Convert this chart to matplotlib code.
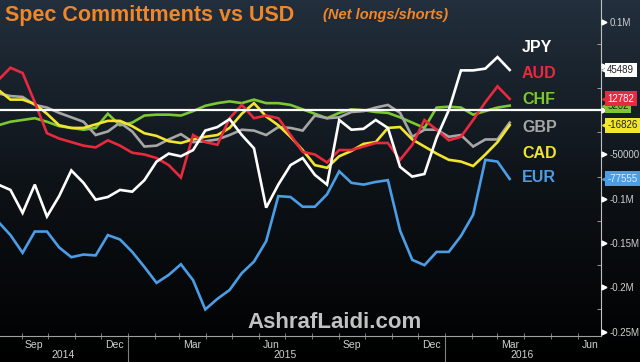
import numpy as np
import pandas as pd
import matplotlib
matplotlib.use("Agg")
import matplotlib.pyplot as plt
import matplotlib.dates as mdates
from matplotlib.transforms import blended_transform_factory

# CFTC net speculative positions vs USD, fortnightly readings
dates = pd.date_range("2014-08-05", periods=43, freq="14D")

jpy = [-84, -90, -116, -84, -120, -97, -68, -82, -101, -98, -90, -92, -79, -58,
       -49, -52, -45, -23, -19, -10, -28, -43, -110, -84, -62, -54, -73, -84,
       -11, -22, -21, -11, -20, -64, -75, -72, -31, 0, 45, 45, 47, 60, 45.489]
aud = [34, 48, 42, 9, -26, -32, -36, -40, -42, -34, -40, -48, -50, -54,
       -62, -76, -28, -36, -39, -9, 6, -9, -6, -9, -28, -47, -50, -59,
       -45, -45, -41, -37, -37, -56, -39, -11, -22, -34, -30, -11, 9, 27, 12.782]
chf = [-17, -13, -11, -9, -13, -18, -20, -22, -20, -4, -17, -14, -6, -5,
       -5, -6, -1, 5, 8, 10, 8, 12, 8, 8, 6, 1, -4, -9,
       -3, 1, 0, -2, -3, -8, -14, -20, 3, 4, 3, -5, -1, 3, 5.202]
gbp = [19, 16, 15, 6, 3, -3, -8, -13, -28, -24, -14, -24, -41, -40,
       -33, -27, -36, -35, -33, -28, -22, -23, -28, -19, -20, -23, -6, -9,
       -8, -2, -1, 3, 6, -3, -30, -22, -22, -30, -28, -41, -33, -33, -14]
cad = [23, 12, 12, 7, -4, -17, -20, -20, -16, -12, -12, -18, -26, -29,
       -35, -37, -33, -30, -28, -20, -4, 8, -7, -17, -30, -45, -62, -65,
       -52, -46, -38, -36, -20, -19, -33, -41, -49, -56, -58, -63, -50, -36, -16.826]
eur = [-126, -141, -161, -137, -137, -155, -166, -163, -164, -141, -146, -160, -177, -195,
       -186, -174, -192, -225, -213, -203, -184, -171, -148, -97, -98, -109, -109, -95,
       -69, -82, -84, -81, -79, -136, -169, -175, -160, -160, -142, -118, -56, -58, -77.555]

names = ["JPY", "AUD", "CHF", "GBP", "CAD", "EUR"]
series = [jpy, aud, chf, gbp, cad, eur]
colors = ["#ffffff", "#e8293e", "#7cc832", "#a6a6a6", "#f2e52e", "#4b9de6"]
text_colors = ["#222222", "#ffffff", "#222222", "#222222", "#222222", "#dfefff"]

narrow = ["Liberation Sans Narrow", "Liberation Sans", "DejaVu Sans"]

fig = plt.figure(figsize=(6.4, 3.62), dpi=100)

# dark gradient background
bg = fig.add_axes([0, 0, 1, 1], zorder=-1)
grad = np.linspace(0, 1, 256).reshape(-1, 1)
cmap = matplotlib.colors.LinearSegmentedColormap.from_list("bg", ["#222f3c", "#0e1318", "#000000"])
bg.imshow(grad, aspect="auto", cmap=cmap, extent=[0, 1, 0, 1])
bg.axis("off")

ax = fig.add_axes([0, 26 / 362, 601 / 640, 336 / 362])
ax.patch.set_alpha(0)

order = [2, 3, 4, 1, 5, 0]
for k in order:
    vals = np.array(series[k]) * 1000
    ax.plot(dates, vals, color=colors[k], lw=1.9, solid_joinstyle="miter", zorder=3)

ax.axhline(0, color="white", lw=1.6, zorder=5)

ax.set_xlim(pd.Timestamp("2014-08-07"), pd.Timestamp("2016-06-28"))
ax.set_ylim(-255000, 124500)

# y axis on the right (50000 and 0 sit under the value boxes)
ax.yaxis.tick_right()
yt = [100000, 50000, 0, -50000, -100000, -150000, -200000, -250000]
ax.set_yticks(yt)
ax.set_yticklabels(["0.1M", "", "", "-50000", "-0.1M", "-0.15M", "-0.2M", "-0.25M"],
                   family=narrow)
ax.set_yticks(np.arange(-225000, 125000, 50000), minor=True)
ax.tick_params(axis="y", which="major", length=0, pad=6, labelsize=7, labelcolor="#d0d0d0")
ax.tick_params(axis="y", which="minor", direction="in", length=3, color="#b0b0b0")
tr = blended_transform_factory(ax.transAxes, ax.transData)
ax.plot([1.005] * len(yt), yt, ls="none", marker=">", ms=3.5, color="white",
        transform=tr, clip_on=False, zorder=6)

# x axis: month ticks, labels mid-month, years underneath
ax.xaxis.set_minor_locator(mdates.MonthLocator())
ax.xaxis.set_minor_formatter(matplotlib.ticker.NullFormatter())
lab_dates = pd.to_datetime(["2014-09-15", "2014-12-16", "2015-03-16", "2015-06-15",
                            "2015-09-15", "2015-12-16", "2016-03-16", "2016-06-15"])
ax.set_xticks(lab_dates)
ax.set_xticklabels(["Sep", "Dec", "Mar", "Jun", "Sep", "Dec", "Mar", "Jun"], family=narrow)
ax.tick_params(axis="x", which="major", length=0, pad=3, labelsize=7.5, labelcolor="#d0d0d0")
ax.tick_params(axis="x", which="minor", direction="inout", length=4, color="#909090")

for s in ["top", "left"]:
    ax.spines[s].set_visible(False)
ax.spines["right"].set_color("#c0c0c0")
ax.spines["bottom"].set_color("#a0a0a0")

trx = blended_transform_factory(ax.transData, ax.transAxes)
for d in ["2015-01-01", "2016-01-01"]:
    ax.plot([pd.Timestamp(d)] * 2, [0, -0.08], color="#808080", lw=0.8,
            transform=trx, clip_on=False)
years = ["2014", "2015", "2016"]
year_pos = pd.to_datetime(["2014-10-18", "2015-07-01", "2016-03-29"])
for y, p in zip(years, year_pos):
    ax.text(p, -0.058, y, transform=trx, ha="center", va="center",
            fontsize=7.5, color="#d0d0d0", family=narrow)

# currency labels
lab_y = [48, 74, 100, 128, 153, 178]
for name, c, py in zip(names, colors, lab_y):
    fig.text(522 / 640, 1 - py / 362, name, color=c, fontsize=11.5,
             fontweight="bold", family="Liberation Sans", va="center", ha="left")

# last value boxes (the GBP box is hidden behind the others in the original)
box_order = [2, 1, 4, 0, 5]
for z, k in enumerate(box_order):
    v = series[k][-1] * 1000
    txt = "{:.0f}".format(v)
    ax.plot([1.007], [v], marker="<", ms=5, color=colors[k], ls="none",
            transform=tr, clip_on=False, zorder=7 + z)
    ax.annotate(txt, xy=(1, v), xycoords=tr, xytext=(4.5, 0), textcoords="offset points",
                ha="left", va="center", fontsize=7, color=text_colors[k], family=narrow,
                bbox=dict(boxstyle="square,pad=0.25", fc=colors[k], ec="none"),
                annotation_clip=False, zorder=7 + z)

fig.text(5 / 640, 1 - 16 / 362, "Spec Committments vs USD", color="#f0862a",
         fontsize=15.5, fontweight="bold", family="Liberation Sans", va="center")
fig.text(323 / 640, 1 - 15 / 362, "(Net longs/shorts)", color="#f0862a",
         fontsize=10.5, fontweight="bold", style="italic", family="Liberation Sans",
         va="center")

fig.text(335 / 640, 1 - 322 / 362, "AshrafLaidi.com", color="#d8d8d8", alpha=0.9,
         fontsize=16, fontweight="bold", family="Liberation Sans", ha="center", va="center")

fig.savefig("out.png", dpi=100)
